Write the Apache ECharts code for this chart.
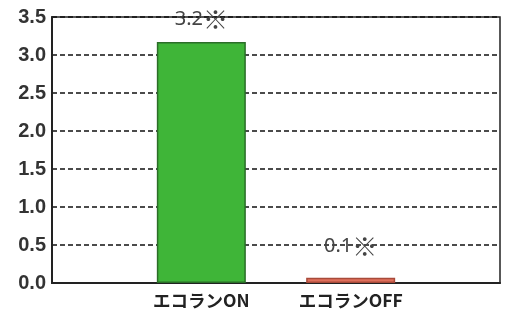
<!DOCTYPE html>
<html><head><meta charset="utf-8">
<script src="https://cdn.jsdelivr.net/npm/echarts@6/dist/echarts.min.js"></script>
<style>html,body{margin:0;padding:0;background:#fff}#c{width:509px;height:318px}</style>
</head><body><div id="c"></div>
<script>
const categories = ['', 'エコランON', 'エコランOFF', ''];
const values = [null, 3.17, 0.07, null];
const valueNumbers = ['', '3.2', '0.1', ''];
const valueMarks = ['', '※', '※', ''];
const labelDistances = [0, 10, 19, 0];
const yTicks = [0, 0.5, 1.0, 1.5, 2.0, 2.5, 3.0, 3.5];
const colors = [null, '#3fb538', '#e0705c', null];
const borders = [null, '#2b6e28', '#a84a3a', null];

const chart = echarts.init(document.getElementById('c'));
chart.setOption({
  animation: false,
  grid: { left: 52, right: 9, top: 17, bottom: 35, show: true, borderColor: '#222', borderWidth: 1.5, backgroundColor: 'transparent' },
  xAxis: {
    type: 'category', data: categories, boundaryGap: false,
    axisLine: { lineStyle: { color: '#222', width: 2 } },
    axisTick: { show: false },
    axisLabel: { color: '#222', fontSize: 17.5, fontWeight: 'bold', fontFamily: 'Noto Sans CJK JP', margin: 9 }
  },
  yAxis: {
    type: 'value', min: 0, max: 3.5, interval: 0.5,
    axisLine: { show: true, lineStyle: { color: '#222', width: 2 } },
    axisTick: { show: false },
    axisLabel: { color: '#333', fontSize: 20, fontWeight: 'bold', fontFamily: 'Liberation Sans Narrow, Liberation Sans, Arial', margin: 6,
      formatter: v => yTicks.includes(v) ? v.toFixed(1) : '' },
    splitLine: { show: true, lineStyle: { color: '#111', type: [5, 3], width: 1.5 } }
  },
  series: [{
    type: 'bar', barWidth: 89,
    data: values.map((v, i) => ({ value: v, itemStyle: { color: colors[i], borderColor: borders[i], borderWidth: 1.5 }, label: { distance: labelDistances[i] } })),
    label: {
      show: true, position: 'top', color: '#444',
      formatter: p => '{n|' + valueNumbers[p.dataIndex] + '}{m|' + valueMarks[p.dataIndex] + '}',
      rich: {
        n: { fontSize: 20, fontFamily: 'Noto Sans', color: '#444' },
        m: { fontSize: 25, fontFamily: 'Noto Sans CJK JP', color: '#444' }
      }
    }
  }]
});
</script></body></html>
